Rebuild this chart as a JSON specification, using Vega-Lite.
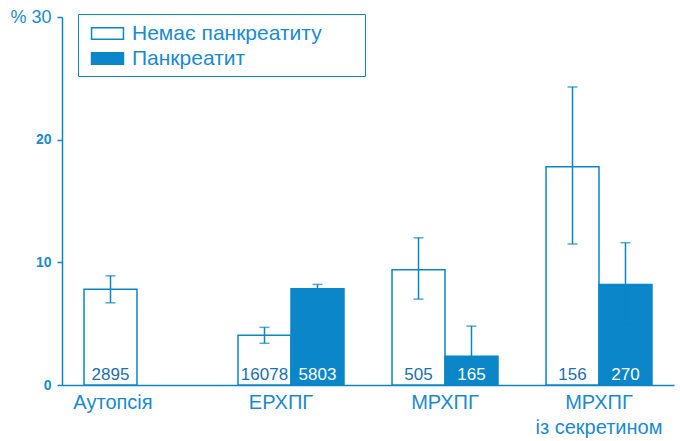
{
  "$schema": "https://vega.github.io/schema/vega-lite/v6.json",
  "width": 612,
  "height": 368,
  "autosize": {"type": "none"},
  "padding": {"left": 62, "top": 17, "right": 6, "bottom": 56},
  "background": "white",
  "config": {
    "font": "Liberation Sans",
    "view": {"stroke": null}
  },
  "data": {
    "values": [
      {"group": "Аутопсія", "status": "Немає панкреатиту", "value": 7.8, "lo": 6.7, "hi": 8.9, "n": "2895"},
      {"group": "ЕРХПГ", "status": "Немає панкреатиту", "value": 4.05, "lo": 3.4, "hi": 4.7, "n": "16078"},
      {"group": "ЕРХПГ", "status": "Панкреатит", "value": 7.85, "lo": 7.5, "hi": 8.2, "n": "5803"},
      {"group": "МРХПГ", "status": "Немає панкреатиту", "value": 9.4, "lo": 7.0, "hi": 12.0, "n": "505"},
      {"group": "МРХПГ", "status": "Панкреатит", "value": 2.35, "lo": 0.5, "hi": 4.8, "n": "165"},
      {"group": "МРХПГ із секретином", "status": "Немає панкреатиту", "value": 17.8, "lo": 11.5, "hi": 24.3, "n": "156"},
      {"group": "МРХПГ із секретином", "status": "Панкреатит", "value": 8.2, "lo": 4.9, "hi": 11.6, "n": "270"}
    ]
  },
  "encoding": {
    "x": {
      "field": "group", "type": "nominal", "sort": null,
      "scale": {"paddingInner": 0.312, "paddingOuter": 0.143},
      "axis": {
        "title": null, "labelAngle": 0, "ticks": false,
        "domainColor": "#0a86c9", "domainWidth": 1.5,
        "labelColor": "#1a8ad0", "labelFontSize": 20, "labelPadding": 7,
        "labelLineHeight": 25, "labelLimit": 300,
        "labelOffset": {"condition": [{"test": "datum.value == 'Аутопсія'", "value": -24}, {"test": "datum.value == 'ЕРХПГ'", "value": -10}], "value": 0},
        "labelExpr": "datum.value == 'МРХПГ із секретином' ? ['МРХПГ', 'із секретином'] : datum.label"
      }
    },
    "xOffset": {"field": "status", "type": "nominal", "sort": ["Немає панкреатиту", "Панкреатит"]}
  },
  "layer": [
    {
      "mark": {"type": "bar", "stroke": "#0a86c9", "strokeWidth": 1.5},
      "encoding": {
        "y": {
          "field": "value", "type": "quantitative",
          "scale": {"domain": [0, 30]},
          "axis": {
            "title": null, "grid": false, "values": [0, 10, 20, 30],
            "domainColor": "#0a86c9", "domainWidth": 1.5,
            "tickColor": "#0a86c9", "tickWidth": 1.5, "tickSize": 5,
            "labelColor": "#1a8ad0", "labelPadding": 6,
            "labelFontWeight": {"condition": {"test": "datum.value == 30", "value": "normal"}, "value": "bold"},
            "labelFontSize": {"condition": {"test": "datum.value == 30", "value": 18}, "value": 14},
            "labelExpr": "datum.value == 30 ? '% 30' : datum.label"
          }
        },
        "fill": {
          "field": "status", "type": "nominal",
          "scale": {"domain": ["Немає панкреатиту", "Панкреатит"], "range": ["white", "#0a86c9"]},
          "legend": {
            "title": null, "orient": "none", "legendX": 16, "legendY": -3,
            "strokeColor": "#0a86c9",
            "padding": 7, "rowPadding": 2, "symbolOffset": 10,
            "symbolType": "M-1.4,-0.5H1.4V0.5H-1.4Z", "symbolSize": 520,
            "symbolStrokeColor": "#0a86c9", "symbolStrokeWidth": 1.5,
            "labelFontSize": 21, "labelColor": "#1a8ad0", "labelOffset": 12,
            "labelLimit": 400,
            "labelExpr": "datum.label + '\u2003\u2002\u2009\u200b'"
          }
        }
      }
    },
    {
      "mark": {"type": "rule", "color": "#0a86c9", "strokeWidth": 1.5},
      "encoding": {
        "y": {"field": "lo", "type": "quantitative"},
        "y2": {"field": "hi"}
      }
    },
    {
      "mark": {"type": "tick", "color": "#0a86c9", "size": 10, "thickness": 1.5},
      "encoding": {"y": {"field": "lo", "type": "quantitative"}}
    },
    {
      "mark": {"type": "tick", "color": "#0a86c9", "size": 10, "thickness": 1.5},
      "encoding": {"y": {"field": "hi", "type": "quantitative"}}
    },
    {
      "mark": {"type": "text", "baseline": "bottom", "dy": -1, "fontSize": 17},
      "encoding": {
        "y": {"datum": 0, "type": "quantitative"},
        "text": {"field": "n"},
        "color": {
          "condition": {"test": "datum.status == 'Панкреатит'", "value": "white"},
          "value": "#1a6fb0"
        }
      }
    }
  ]
}
